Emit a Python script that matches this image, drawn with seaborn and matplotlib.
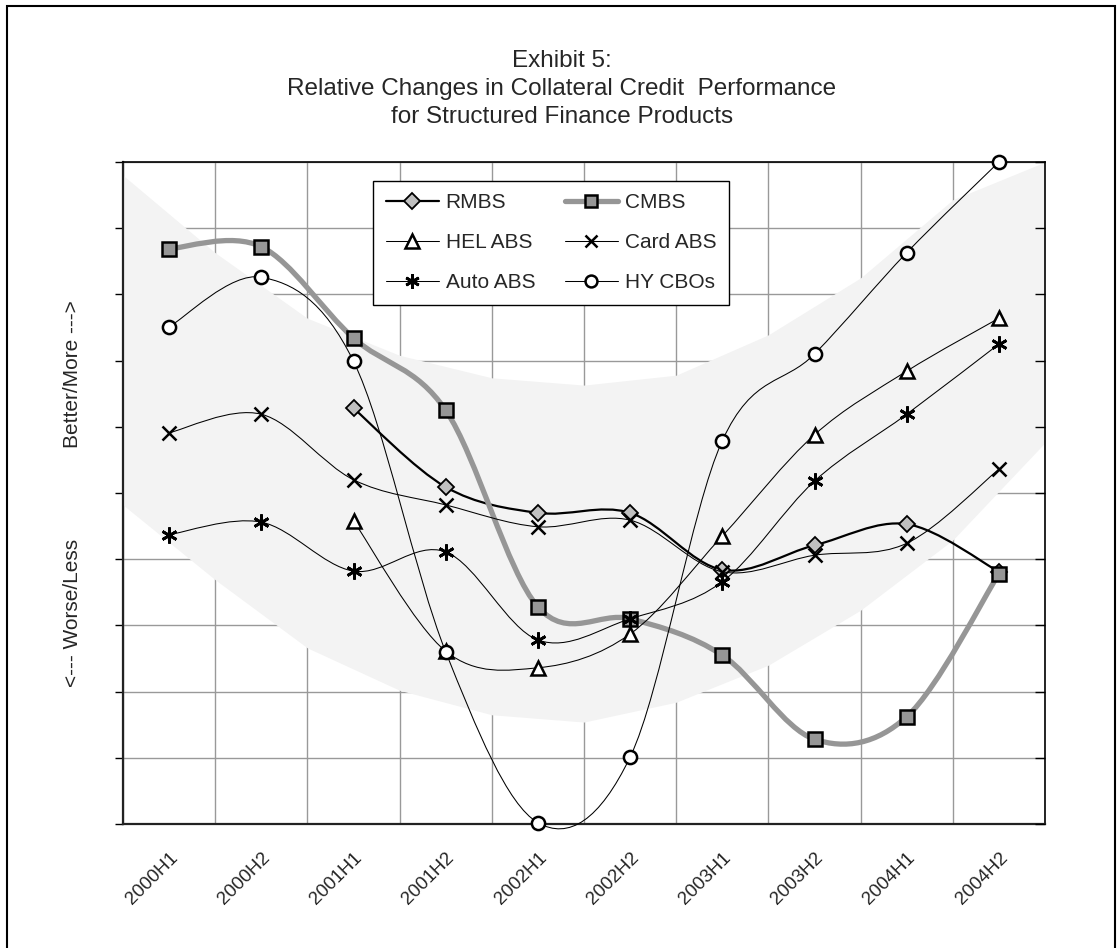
import matplotlib
matplotlib.use("Agg")
import matplotlib.pyplot as plt
import matplotlib.transforms as mtransforms
import seaborn as sns
import numpy as np
from matplotlib.path import Path
from matplotlib.patches import PathPatch, Rectangle
from matplotlib.lines import Line2D

# data (grid units, 0 = bottom, 10 = top)
periods = ['2000H1', '2000H2', '2001H1', '2001H2', '2002H1',
           '2002H2', '2003H1', '2003H2', '2004H1', '2004H2']
nan = np.nan
rmbs = [nan, nan, 6.28, 5.09, 4.70, 4.70, 3.84, 4.21, 4.53, 3.81]
cmbs = [8.69, 8.72, 7.34, 6.25, 3.28, 3.10, 2.55, 1.28, 1.62, 3.78]
hel_abs = [nan, nan, 4.58, 2.61, 2.36, 2.87, 4.35, 5.88, 6.84, 7.64]
card_abs = [5.91, 6.19, 5.20, 4.82, 4.49, 4.59, 3.81, 4.06, 4.24, 5.36]
auto_abs = [4.37, 4.56, 3.82, 4.11, 2.78, 3.10, 3.66, 5.18, 6.19, 7.25]
hy_cbos = [7.51, 8.26, 6.99, 2.60, 0.02, 1.01, 5.79, 7.10, 8.63, 10.0]

# shaded band, sampled at the category boundaries
band_upper = [9.80, 8.63, 7.64, 7.08, 6.74, 6.63, 6.78, 7.39, 8.25, 9.43, 10.0]
band_lower = [4.82, 3.69, 2.66, 2.02, 1.65, 1.54, 1.84, 2.40, 3.23, 4.29, 5.76]

sns.set_style("white")
plt.rcParams['font.family'] = ['Liberation Sans', 'DejaVu Sans']

fig = plt.figure(figsize=(11.2, 9.48), dpi=100)
ax = fig.add_axes([123 / 1120, 1 - 824 / 948, 922 / 1120, 662 / 948])

x = np.arange(len(periods))
edges = np.arange(len(periods) + 1) - 0.5

ax.set_xlim(-0.5, len(periods) - 0.5)
ax.set_ylim(0, 10)
ax.set_axisbelow(True)

ax.fill_between(edges, band_lower, band_upper, color='#f3f3f3', lw=0, zorder=1)


def smooth_path(xs, ys):
    # Excel-like smoothed line: cubic bezier through each point
    pts = np.array([(a, b) for a, b in zip(xs, ys) if not np.isnan(b)])
    n = len(pts)
    verts = [pts[0]]
    codes = [Path.MOVETO]
    for i in range(n - 1):
        p_prev = pts[i - 1] if i > 0 else pts[i]
        p_next = pts[i + 2] if i + 2 < n else pts[i + 1]
        c1 = pts[i] + (pts[i + 1] - p_prev) / 6
        c2 = pts[i + 1] - (p_next - pts[i]) / 6
        verts += [c1, c2, pts[i + 1]]
        codes += [Path.CURVE4] * 3
    return Path(verts, codes)


series = [
    ('RMBS', rmbs, dict(color='black', lw=1.6), dict(marker='D', ms=8.5, mfc='#c0c0c0', mec='black', mew=1.3)),
    ('CMBS', cmbs, dict(color='#969696', lw=3.8), dict(marker='s', ms=9.5, mfc='#969696', mec='black', mew=1.8)),
    ('HEL ABS', hel_abs, dict(color='black', lw=0.75), dict(marker='^', ms=10.5, mfc='white', mec='black', mew=1.8)),
    ('Card ABS', card_abs, dict(color='black', lw=0.75), dict(marker='x', ms=10, mfc='none', mec='black', mew=1.8)),
    ('Auto ABS', auto_abs, dict(color='black', lw=0.75), dict(marker=(6, 2, 0), ms=11.5, mfc='none', mec='black', mew=2.0)),
    ('HY CBOs', hy_cbos, dict(color='black', lw=0.75), dict(marker='o', ms=9.5, mfc='white', mec='black', mew=1.8)),
]

handles = {}
for i, (name, vals, lstyle, mstyle) in enumerate(series):
    z = 3 + i
    arr = np.array(vals, dtype=float)
    patch = PathPatch(smooth_path(x, arr), fill=False,
                      edgecolor=lstyle['color'], lw=lstyle['lw'], zorder=z,
                      clip_on=False, capstyle='round', joinstyle='round')
    ax.add_patch(patch)
    mask = ~np.isnan(arr)
    sns.lineplot(x=x[mask], y=arr[mask], ax=ax, linestyle='none',
                 marker=mstyle['marker'], markersize=mstyle['ms'],
                 markerfacecolor=mstyle['mfc'], markeredgecolor=mstyle['mec'],
                 markeredgewidth=mstyle['mew'], color='black', zorder=z + 0.5,
                 clip_on=False, legend=False)
    handles[name] = Line2D([], [], color=lstyle['color'], lw=lstyle['lw'],
                           marker=mstyle['marker'], ms=mstyle['ms'] * 0.9,
                           mfc=mstyle['mfc'], mec=mstyle['mec'], mew=mstyle['mew'],
                           label=name)

# axes cosmetics
ax.set_xticks(x)
ax.set_xticklabels(periods, rotation=45, ha='right', va='top',
                   rotation_mode='anchor', fontsize=13.5)
shift = mtransforms.ScaledTranslation(-21 / 100, 0, fig.dpi_scale_trans)
for lab in ax.get_xticklabels():
    lab.set_transform(lab.get_transform() + shift)
ax.set_xticks(edges, minor=True)
ax.set_yticks(np.arange(0, 11, 1))
ax.set_yticklabels([])
ax.tick_params(axis='x', which='major', length=0, pad=18)
ax.tick_params(axis='x', which='minor', length=5, width=1, color='black', direction='out')
ax.tick_params(axis='y', which='major', length=6, width=1, color='black', direction='out', left=True)
ax.grid(True, axis='x', which='minor', color='#999999', lw=1)
ax.grid(True, axis='y', which='major', color='#999999', lw=1)
ax.grid(False, axis='x', which='major')
for side in ['left', 'bottom']:
    ax.spines[side].set_color('#222222')
    ax.spines[side].set_linewidth(1.6)
for side in ['top', 'right']:
    ax.spines[side].set_color('black')
    ax.spines[side].set_linewidth(1.2)

# inward ticks on the right spine
ax_r = ax.twinx()
ax_r.set_ylim(0, 10)
ax_r.set_yticks(np.arange(0, 11, 1))
ax_r.set_yticklabels([])
ax_r.tick_params(axis='y', length=7, width=1, color='black', direction='in')
ax_r.grid(False)
for s in ax_r.spines.values():
    s.set_visible(False)

# legend filled row by row: RMBS, CMBS / HEL ABS, Card ABS / Auto ABS, HY CBOs
order = ['RMBS', 'HEL ABS', 'Auto ABS', 'CMBS', 'Card ABS', 'HY CBOs']
leg = ax.legend(handles=[handles[k] for k in order], ncol=2, loc='upper left',
                bbox_to_anchor=((373 - 123) / 922, (824 - 181) / 662),
                borderaxespad=0, fontsize=15,
                frameon=True, fancybox=False, edgecolor='black',
                framealpha=1, handlelength=2.55, handletextpad=0.34,
                columnspacing=1.4, labelspacing=1.0, borderpad=0.6)
leg.get_frame().set_linewidth(1.0)
leg.set_zorder(20)

title_lines = ['Exhibit 5:',
               'Relative Changes in Collateral Credit  Performance',
               'for Structured Finance Products']
for k, line in enumerate(title_lines):
    fig.text(562 / 1120, 1 - (67 + 28 * k) / 948, line,
             ha='center', va='baseline', fontsize=17.5)

fig.text(72 / 1120, 1 - 374 / 948, 'Better/More --->', rotation=90,
         ha='center', va='center', fontsize=15)
fig.text(72 / 1120, 1 - 613 / 948, '<--- Worse/Less', rotation=90,
         ha='center', va='center', fontsize=15)

fig.patches.append(Rectangle((7 / 1120, -0.01), 1108 / 1120, 1.01 - 6 / 948,
                             transform=fig.transFigure, fill=False,
                             edgecolor='black', lw=1.5, zorder=0))

fig.savefig('out.png', dpi=100)
